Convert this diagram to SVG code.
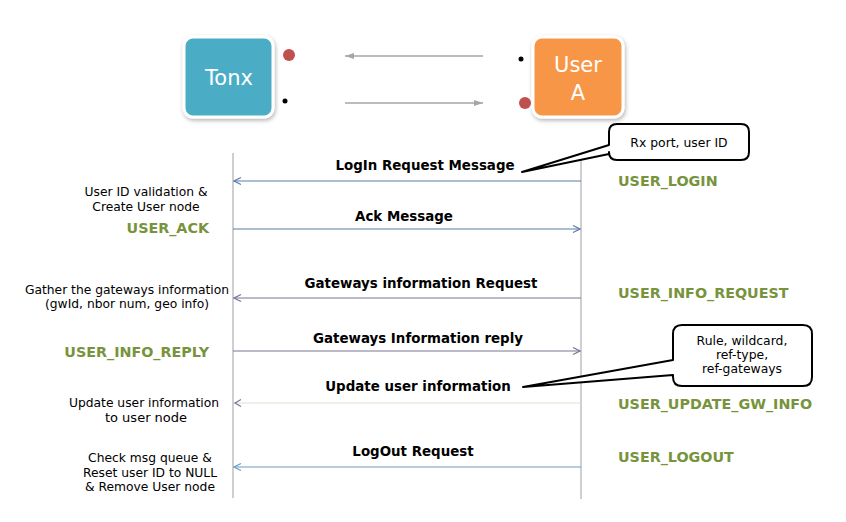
<svg xmlns="http://www.w3.org/2000/svg" width="846" height="522" viewBox="0 0 846 522">
<style>
text{font-family:"DejaVu Sans",Verdana,sans-serif;}
.node-t{fill:#fff;font-size:21px;text-anchor:middle;}
.msg{font-size:13.4px;font-weight:bold;fill:#000;text-anchor:middle;}
.note{font-size:12.3px;fill:#000;text-anchor:middle;}
.cnote{font-size:12.4px;fill:#000;text-anchor:middle;}
.code{font-size:14.3px;font-weight:bold;fill:#77933c;}
.life{stroke:#bfbfbf;stroke-width:1.5;fill:none;}
.callout{fill:#fff;stroke:#000;stroke-width:2;stroke-linejoin:round;}
.gray{stroke:#a6a6a6;stroke-width:1.5;fill:none;}
</style>
<defs>
<filter id="sh" x="-20%" y="-20%" width="140%" height="140%">
<feDropShadow dx="1" dy="2" stdDeviation="2" flood-color="#000" flood-opacity="0.3"/>
</filter>
<marker id="ga" markerWidth="10" markerHeight="8" refX="9" refY="4" orient="auto" markerUnits="userSpaceOnUse">
<path d="M0,1 L9,4 L0,7 z" fill="#a6a6a6"/>
</marker>
<marker id="oa" markerWidth="10" markerHeight="10" refX="9" refY="5" orient="auto" markerUnits="userSpaceOnUse">
<path d="M2,1.5 L9,5 L2,8.5" fill="none" stroke="context-stroke" stroke-width="1.2"/>
</marker>
</defs>

<g id="tonx">
<rect x="184" y="37" width="89" height="80" rx="9" fill="#4bacc6" stroke="#fff" stroke-width="3" filter="url(#sh)"/>
<text class="node-t" x="229" y="85">Tonx</text>
<circle cx="289" cy="55" r="6" fill="#c0504d"/>
<circle cx="285" cy="101" r="2.5" fill="#000"/>
</g>

<g id="usera">
<rect x="533" y="37" width="90" height="80" rx="9" fill="#f79646" stroke="#fff" stroke-width="3" filter="url(#sh)"/>
<text class="node-t" x="578" y="72">User</text>
<text class="node-t" x="578" y="100">A</text>
<circle cx="521" cy="59" r="2.5" fill="#000"/>
<circle cx="525" cy="103" r="6" fill="#c0504d"/>
</g>

<g id="lifelines">
<line class="life" x1="233" y1="153" x2="233" y2="498" stroke="#a6a6a6"/>
<line class="life" x1="581" y1="153" x2="581" y2="499"/>
</g>

<g id="connectors">
<line class="gray" x1="483" y1="56" x2="345" y2="56" marker-end="url(#ga)"/>
<line class="gray" x1="345" y1="103" x2="483" y2="103" marker-end="url(#ga)"/>
<line x1="581" y1="181" x2="234" y2="181" stroke="#5b7ca6" stroke-width="1.2" marker-end="url(#oa)"/>
<line x1="233" y1="229" x2="580" y2="229" stroke="#5b7ca6" stroke-width="1.2" marker-end="url(#oa)"/>
<line x1="581" y1="298" x2="234" y2="298" stroke="#7a7498" stroke-width="1.2" marker-end="url(#oa)"/>
<line x1="233" y1="351" x2="580" y2="351" stroke="#7a7498" stroke-width="1.2" marker-end="url(#oa)"/>
<line x1="581" y1="403" x2="234" y2="403" stroke="#dde3d6" stroke-width="1.2"/>
<path d="M241,399.5 L235,403 L241,406.5" fill="none" stroke="#7a7498" stroke-width="1.2"/>
<line x1="581" y1="467" x2="234" y2="467" stroke="#6b9cc3" stroke-width="1.2" marker-end="url(#oa)"/>
</g>

<g id="messages">
<text class="msg" x="425" y="170">LogIn Request Message</text>
<text class="msg" x="404" y="221">Ack Message</text>
<text class="msg" x="421" y="288">Gateways information Request</text>
<text class="msg" x="418" y="343">Gateways Information reply</text>
<text class="msg" x="418" y="391">Update user information</text>
<text class="msg" x="413" y="456">LogOut Request</text>
</g>

<g id="left-notes">
<text class="note" x="146" y="196">User ID validation &amp;</text>
<text class="note" x="146" y="211">Create User node</text>
<text class="code" x="209" y="233" text-anchor="end">USER_ACK</text>
<text class="note" x="127" y="294">Gather the gateways information</text>
<text class="note" x="127" y="308">(gwId, nbor num, geo info)</text>
<text class="code" x="209" y="357" text-anchor="end">USER_INFO_REPLY</text>
<text class="note" x="144" y="407">Update user information</text>
<text class="note" x="146" y="422" style="font-size:13px">to user node</text>
<text class="note" x="150" y="462">Check msg queue &amp;</text>
<text class="note" x="150" y="477">Reset user ID to NULL</text>
<text class="note" x="150" y="491">&amp; Remove User node</text>
</g>

<g id="right-codes">
<text class="code" x="618" y="186">USER_LOGIN</text>
<text class="code" x="618" y="298">USER_INFO_REQUEST</text>
<text class="code" x="618" y="409">USER_UPDATE_GW_INFO</text>
<text class="code" x="618" y="462">USER_LOGOUT</text>
</g>

<g id="callout1">
<path class="callout" d="M617,124 H741 Q749,124 749,132 V152 Q749,160 741,160 H617 Q609,160 609,152 V154 L522,172 L609,145 V132 Q609,124 617,124 Z"/>
<text class="cnote" x="679" y="147">Rx port, user ID</text>
</g>

<g id="callout2">
<path class="callout" d="M682,325 H803 Q812,325 812,334 V377 Q812,386 803,386 H682 Q673,386 673,377 V375 L523,387 L673,360 V334 Q673,325 682,325 Z"/>
<text class="cnote" x="742" y="345">Rule, wildcard,</text>
<text class="cnote" x="742" y="359">ref-type,</text>
<text class="cnote" x="742" y="373">ref-gateways</text>
</g>
</svg>
